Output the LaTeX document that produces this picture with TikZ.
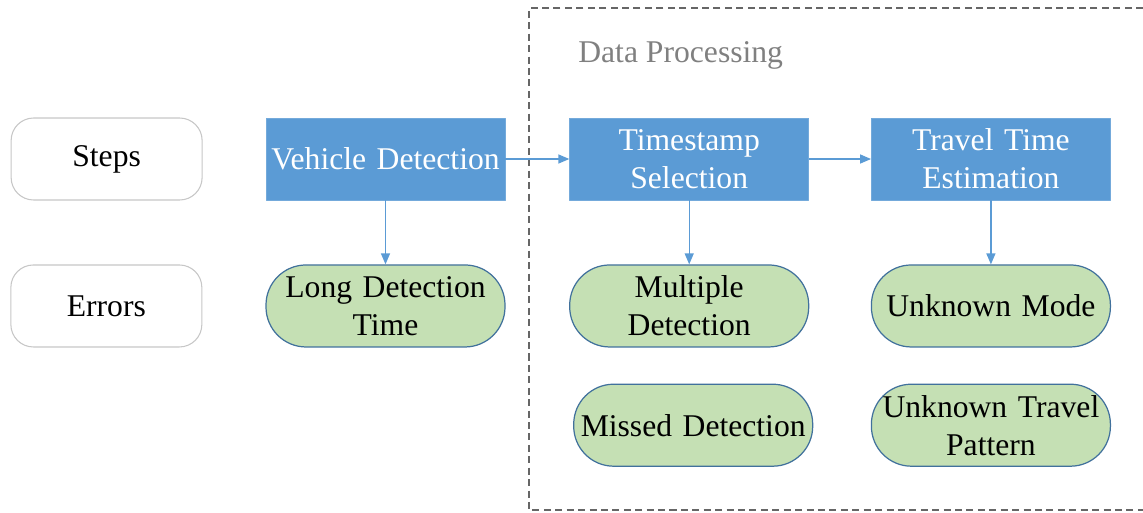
\documentclass[tikz,border=0pt]{standalone}
\usepackage{fontspec}
\setmainfont{Liberation Serif}
\usetikzlibrary{positioning,arrows.meta}
\definecolor{stepblue}{HTML}{5B9BD5}
\definecolor{errgreen}{HTML}{C5E0B4}
\definecolor{errline}{HTML}{41719C}
\begin{document}
\begin{tikzpicture}[line join=round, >={Triangle[length=0.22cm,width=0.18cm]}]
\tikzset{every node/.style={font=\fontsize{18}{21.6}\selectfont, align=center, inner sep=0pt},
  labelbox/.style={draw=black!22, fill=white, line width=0.6pt, rounded corners=0.45cm, minimum width=3.82cm, minimum height=1.64cm},
  stepbox/.style={draw=stepblue!85!white, fill=stepblue, text=white, minimum width=4.78cm, minimum height=1.64cm, text width=4.7cm},
  errbox/.style={draw=errline, fill=errgreen, line width=0.7pt, rounded corners=0.8cm, minimum width=4.78cm, minimum height=1.64cm, text width=4.7cm},
  link/.style={->, draw=stepblue, line width=0.8pt}}
\useasboundingbox (0,0) rectangle (22.86,-10.24);
% frame of the processing part
\draw[black!60, line width=0.7pt, dash pattern=on 4pt off 2.5pt] (22.86,-0.16)--(10.58,-0.16)--(10.58,-10.2)--(22.86,-10.2);
\node[text=black!50, anchor=west] (dp) at (11.56,-1.1) {Data Processing};
% steps
\node[stepbox] (vd) at (7.71,-3.18) {Vehicle Detection};
\node[stepbox, right=1.28cm of vd] (ts) {Timestamp\\Selection};
\node[stepbox, right=1.24cm of ts] (tt) {Travel Time\\Estimation};
\node[labelbox, left=1.26cm of vd] (steps) {Steps};
% errors
\node[errbox, below=1.28cm of vd] (ldt) {Long Detection\\Time};
\node[errbox, below=1.28cm of ts] (md) {Multiple\\Detection};
\node[errbox, below=1.28cm of tt] (um) {Unknown Mode};
\node[errbox, below=0.72cm of md, xshift=0.08cm] (msd) {Missed Detection};
\node[errbox, below=0.72cm of um] (utp) {Unknown Travel\\Pattern};
\node[labelbox, left=1.26cm of ldt] (errors) {Errors};
% connectors
\draw[link] (vd)--(ts);
\draw[link] (ts)--(tt);
\foreach \a/\b in {vd/ldt,ts/md,tt/um}\draw[link] (\a)--(\b);
\end{tikzpicture}
\end{document}
